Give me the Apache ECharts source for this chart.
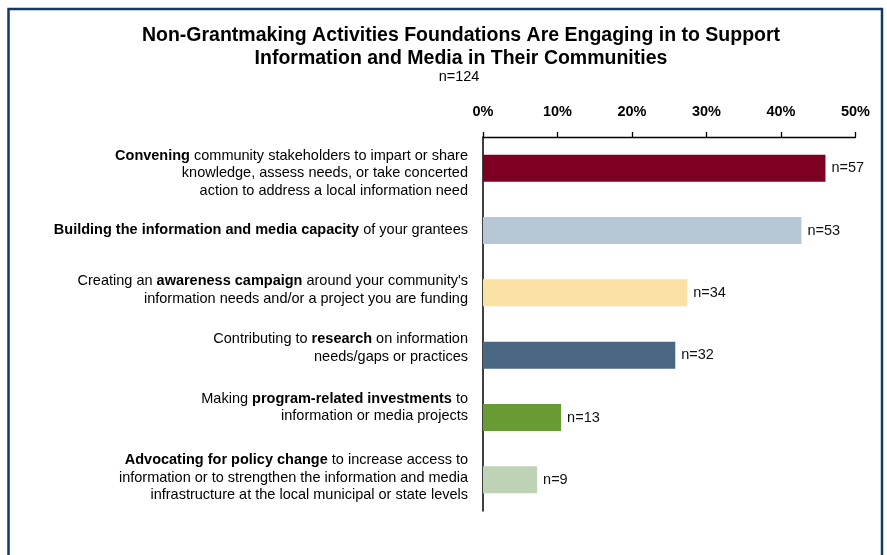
<!DOCTYPE html>
<html>
<head>
<meta charset="utf-8">
<script src="https://cdn.jsdelivr.net/npm/echarts@6/dist/echarts.min.js"></script>
<style>
  html, body { margin: 0; padding: 0; background: #fff; }
  #chart { width: 887px; height: 555px; }
</style>
</head>
<body>
<div id="chart"></div>
<script>
// Survey respondents
const totalRespondents = 124;

// Activity labels ({b|...} marks the bold phrase)
const categories = [
  "{b|Convening} community stakeholders to impart or share\nknowledge, assess needs, or take concerted\naction to address a local information need",
  "{b|Building the information and media capacity} of your grantees",
  "Creating an {b|awareness campaign} around your community's\ninformation needs and/or a project you are funding",
  "Contributing to {b|research} on information\nneeds/gaps or practices",
  "Making {b|program-related investments} to\ninformation or media projects",
  "{b|Advocating for policy change} to increase access to\ninformation or to strengthen the information and media\ninfrastructure at the local municipal or state levels"
];

// Number of foundations engaging in each activity
const counts = [57, 53, 34, 32, 13, 9];

// Bar colours per activity
const barColors = ["#7d0022", "#b6c6d5", "#fbe2a4", "#4a6783", "#699b35", "#bed2b6"];

// Axis tick values (percent)
const tickMin = 0, tickMax = 50, tickStep = 10;

// Vertical nudge of each category label (px, positive = down)
const labelNudge = [5, -1, -3, -7, -10, -2];

const FONT = '"Liberation Sans", Arial, Helvetica, sans-serif';
const LABEL_SIZE = 14.5;

const chart = echarts.init(document.getElementById('chart'), null, { renderer: 'canvas' });

const seriesData = counts.map((n, i) => ({
  value: n / totalRespondents * 100,
  count: n,
  itemStyle: { color: barColors[i] }
}));

const categoryData = categories.map((c, i) => {
  const d = labelNudge[i];
  return {
    value: c,
    textStyle: { padding: d >= 0 ? [d * 2, 0, 0, 0] : [0, 0, -d * 2, 0] }
  };
});

chart.setOption({
  animation: false,
  backgroundColor: '#ffffff',
  textStyle: { fontFamily: FONT },
  graphic: [
    {
      type: 'rect',
      shape: { x: 8.5, y: 9, width: 873.5, height: 580 },
      style: { fill: 'none', stroke: '#12396a', lineWidth: 2.5 },
      silent: true
    },
    {
      type: 'text',
      silent: true,
      style: {
        text: 'Non-Grantmaking Activities Foundations Are Engaging in to Support\nInformation and Media in Their Communities',
        font: 'bold 19.5px ' + FONT,
        fill: '#000',
        align: 'center',
        verticalAlign: 'middle',
        lineHeight: 23,
        x: 461,
        y: 47.5
      }
    },
    {
      type: 'text',
      silent: true,
      style: {
        text: 'n=' + totalRespondents,
        font: '14.5px ' + FONT,
        fill: '#000',
        align: 'center',
        verticalAlign: 'middle',
        x: 459,
        y: 76.5
      }
    }
  ],
  grid: {
    left: 483,
    top: 137,
    width: 372.5,
    height: 374,
    containLabel: false
  },
  xAxis: {
    type: 'value',
    position: 'top',
    min: tickMin,
    max: tickMax,
    interval: tickStep,
    axisLine: { show: true, lineStyle: { color: '#000', width: 1.3 } },
    axisTick: { show: true, length: 5, lineStyle: { color: '#000', width: 1.3 } },
    splitLine: { show: false },
    axisLabel: {
      formatter: v => v + '%',
      color: '#000',
      fontWeight: 'bold',
      fontSize: 14.5,
      fontFamily: FONT,
      margin: 18
    }
  },
  yAxis: {
    type: 'category',
    inverse: true,
    data: categoryData,
    axisLine: { show: true, lineStyle: { color: '#000', width: 1.5 } },
    axisTick: { show: false },
    axisLabel: {
      margin: 15,
      align: 'right',
      color: '#000',
      fontSize: LABEL_SIZE,
      fontFamily: FONT,
      lineHeight: 17.5,
      rich: {
        b: { fontWeight: 'bold', fontSize: LABEL_SIZE, fontFamily: FONT, color: '#000', lineHeight: 17.5 }
      }
    }
  },
  series: [{
    type: 'bar',
    data: seriesData,
    barWidth: 27,
    label: {
      show: true,
      position: 'right',
      distance: 6,
      color: '#111',
      fontSize: LABEL_SIZE,
      fontFamily: FONT,
      formatter: p => 'n=' + p.data.count
    }
  }]
});
</script>
</body>
</html>
